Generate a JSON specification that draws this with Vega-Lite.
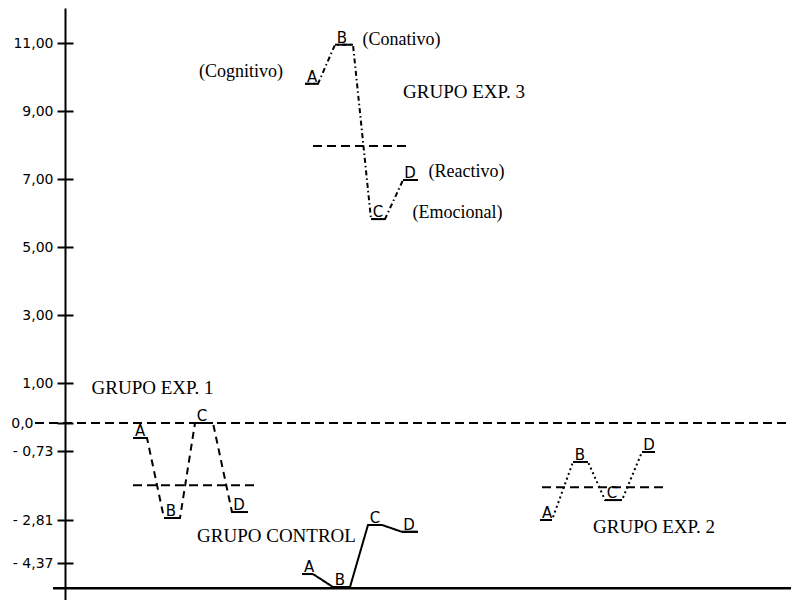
{
  "$schema": "https://vega.github.io/schema/vega-lite/v6.json",
  "width": 726,
  "height": 592,
  "autosize": "none",
  "padding": {"left": 65, "top": 8, "right": 0, "bottom": 0},
  "background": "white",
  "config": {"view": {"stroke": null}},
  "datasets": {
    "segments": [
      {"group": "Exp3", "point": "A", "x1": 24.0, "x2": 25.3, "y": 9.8},
      {"group": "Exp3", "point": "B", "x1": 27.0, "x2": 28.8, "y": 10.95},
      {"group": "Exp3", "point": "C", "x1": 30.6, "x2": 32.0, "y": 5.82},
      {"group": "Exp3", "point": "D", "x1": 33.8, "x2": 35.3, "y": 6.97},
      {"group": "Exp1", "point": "A", "x1": 6.8, "x2": 8.2, "y": -0.39},
      {"group": "Exp1", "point": "B", "x1": 9.9, "x2": 11.5, "y": -2.75},
      {"group": "Exp1", "point": "C", "x1": 13.0, "x2": 14.8, "y": 0.0},
      {"group": "Exp1", "point": "D", "x1": 16.7, "x2": 18.3, "y": -2.57},
      {"group": "Control", "point": "A", "x1": 23.7, "x2": 24.8, "y": -4.77},
      {"group": "Control", "point": "B", "x1": 26.8, "x2": 28.5, "y": -5.24},
      {"group": "Control", "point": "C", "x1": 30.3, "x2": 31.7, "y": -2.99},
      {"group": "Control", "point": "D", "x1": 33.7, "x2": 35.3, "y": -3.24},
      {"group": "Exp2", "point": "A", "x1": 47.5, "x2": 48.7, "y": -2.81},
      {"group": "Exp2", "point": "B", "x1": 50.8, "x2": 52.3, "y": -1.06},
      {"group": "Exp2", "point": "C", "x1": 54.0, "x2": 55.7, "y": -2.21},
      {"group": "Exp2", "point": "D", "x1": 57.7, "x2": 59.0, "y": -0.76}
    ],
    "reflines": [
      {"kind": "zero", "x1": -3.0, "x2": 72.3, "y": 0},
      {"kind": "mean", "group": "Exp3", "x1": 24.8, "x2": 34.5, "y": 7.97},
      {"kind": "mean", "group": "Exp1", "x1": 6.8, "x2": 19.0, "y": -1.76},
      {"kind": "mean", "group": "Exp2", "x1": 47.7, "x2": 60.0, "y": -1.82}
    ],
    "axisline": [
      {"x1": -1.2, "x2": 72.6, "y": -5.28}
    ],
    "notes": [
      {"text": "(Cognitivo)", "x": 17.6, "y": 10.15, "kind": "note"},
      {"text": "(Conativo)", "x": 33.65, "y": 11.09, "kind": "note"},
      {"text": "GRUPO EXP. 3", "x": 39.9, "y": 9.56, "kind": "group"},
      {"text": "(Reactivo)", "x": 40.15, "y": 7.21, "kind": "note"},
      {"text": "(Emocional)", "x": 39.25, "y": 6.0, "kind": "note"},
      {"text": "GRUPO EXP. 1", "x": 8.75, "y": 0.875, "kind": "group"},
      {"text": "GRUPO CONTROL", "x": 21.15, "y": -3.39, "kind": "group"},
      {"text": "GRUPO EXP. 2", "x": 58.9, "y": -3.06, "kind": "group"}
    ]
  },
  "resolve": {"axis": {"y": "independent"}},
  "layer": [
    {
      "data": {"name": "axisline"},
      "mark": {"type": "rule", "strokeWidth": 2.5, "color": "black"},
      "encoding": {
        "x": {"field": "x1", "type": "quantitative", "scale": {"domain": [0, 72.6], "nice": false, "zero": false}, "axis": null},
        "x2": {"field": "x2"},
        "y": {
          "field": "y", "type": "quantitative",
          "scale": {"type": "linear", "domain": [-5.71, -4.37, -2.81, -0.73, 0, 1, 11, 12.03], "range": [592, 555, 512, 443, 415, 375, 35, 0], "nice": false, "zero": false},
          "axis": {
            "orient": "left",
            "values": [11, 9, 7, 5, 3, 1, 0, -0.73, -2.81, -4.37],
            "labelExpr": "datum.value == 0 ? '0,0' : (datum.value < 0 ? '- ' : '') + replace(format(abs(datum.value), '.2f'), '.', ',')",
            "title": null,
            "grid": false,
            "domain": true,
            "domainColor": "black",
            "domainWidth": 2,
            "ticks": true,
            "tickColor": "black",
            "tickWidth": 2,
            "tickSize": 8,
            "labelPadding": {"condition": {"test": "datum.value == 0", "value": 24}, "value": 4},
            "labelFont": "DejaVu Sans",
            "labelFontSize": 14,
            "labelColor": "black",
            "labelFlush": false,
            "labelOverlap": false,
            "labelBound": false
          }
        }
      }
    },
    {
      "data": {"name": "reflines"},
      "mark": {"type": "rule", "strokeWidth": 2, "color": "black", "strokeDash": [9, 5]},
      "encoding": {
        "x": {"field": "x1", "type": "quantitative"},
        "x2": {"field": "x2"},
        "y": {
          "field": "y", "type": "quantitative",
          "axis": {
            "orient": "right",
            "offset": -726,
            "values": [11, 9, 7, 5, 3, 1, 0, -0.73, -2.81, -4.37],
            "labels": false,
            "domain": false,
            "ticks": true,
            "tickColor": "black",
            "tickWidth": 2,
            "tickSize": 8,
            "grid": false,
            "title": null
          }
        }
      }
    },
    {
      "data": {"name": "segments"},
      "transform": [{"fold": ["x1", "x2"], "as": ["end", "xv"]}],
      "mark": {"type": "line", "strokeWidth": 2, "color": "black"},
      "encoding": {
        "x": {"field": "xv", "type": "quantitative"},
        "y": {"field": "y", "type": "quantitative", "axis": null},
        "detail": {"field": "group", "type": "nominal"},
        "strokeDash": {
          "field": "group", "type": "nominal",
          "scale": {"domain": ["Control", "Exp1", "Exp2", "Exp3"], "range": [[1, 0], [7, 5], [2, 3], [5, 3, 1.5, 3]]},
          "legend": null
        }
      }
    },
    {
      "data": {"name": "segments"},
      "mark": {"type": "rule", "strokeWidth": 2, "color": "black"},
      "encoding": {
        "x": {"field": "x1", "type": "quantitative"},
        "x2": {"field": "x2"},
        "y": {"field": "y", "type": "quantitative", "axis": null}
      }
    },
    {
      "data": {"name": "segments"},
      "mark": {"type": "text", "font": "DejaVu Sans", "fontSize": 15, "color": "black", "align": "center", "baseline": "alphabetic", "dx": 7, "dy": -2},
      "encoding": {
        "x": {"field": "x1", "type": "quantitative"},
        "y": {"field": "y", "type": "quantitative", "axis": null},
        "text": {"field": "point"}
      }
    },
    {
      "data": {"name": "notes"},
      "transform": [{"filter": "datum.kind == 'note'"}],
      "mark": {"type": "text", "font": "Liberation Serif", "fontSize": 18, "color": "black", "align": "center", "baseline": "middle"},
      "encoding": {
        "x": {"field": "x", "type": "quantitative"},
        "y": {"field": "y", "type": "quantitative", "axis": null},
        "text": {"field": "text"}
      }
    },
    {
      "data": {"name": "notes"},
      "transform": [{"filter": "datum.kind == 'group'"}],
      "mark": {"type": "text", "font": "Liberation Serif", "fontSize": 19, "color": "black", "align": "center", "baseline": "middle"},
      "encoding": {
        "x": {"field": "x", "type": "quantitative"},
        "y": {"field": "y", "type": "quantitative", "axis": null},
        "text": {"field": "text"}
      }
    }
  ]
}
